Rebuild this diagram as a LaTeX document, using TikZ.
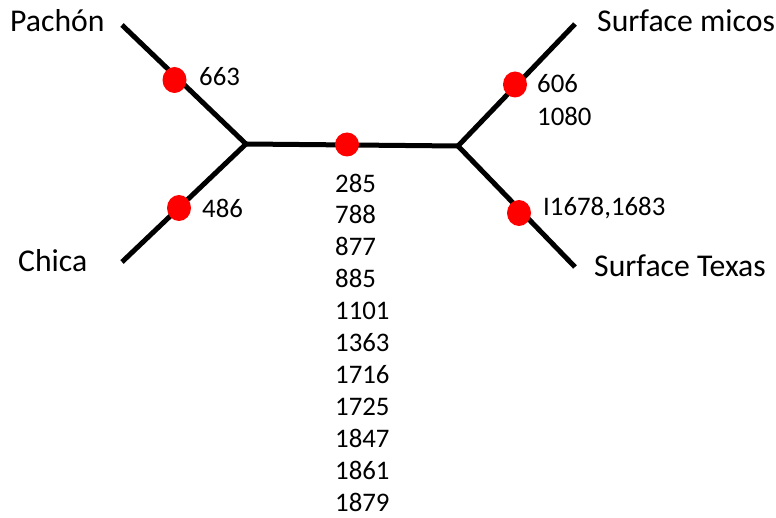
\documentclass[tikz,border=0pt]{standalone}
\usepackage{fontspec}
\setmainfont{Carlito}
\usetikzlibrary{shapes.geometric}
\begin{document}
\begin{tikzpicture}[x=1pt,y=-1pt,
  branch/.style={line width=5pt,black},
  site/.style={ellipse,fill=red,draw=none,inner sep=0pt,minimum width=24pt,minimum height=26pt},
  taxon/.style={anchor=base west,inner sep=0pt,font=\fontsize{31.7}{38}\selectfont},
  posn/.style={anchor=base west,inner sep=0pt,align=left,font=\fontsize{26.8}{32}\selectfont}]
  \useasboundingbox (0,0) rectangle (776,518);
  % tree skeleton
  \coordinate (jl) at (246,144);
  \coordinate (jr) at (458,146);
  \coordinate (tp) at (122,25);
  \coordinate (tc) at (122,262);
  \coordinate (tm) at (575,24);
  \coordinate (tt) at (575,267);
  \draw[branch,line join=miter] (tp) -- (jl) -- (tc);
  \draw[branch] (jl) -- (jr);
  \draw[branch,line join=miter] (tm) -- (jr) -- (tt);
  % mutation sites
  \node[site] (sp) at (174.5,80) {};
  \node[site] (sc) at (179,208) {};
  \node[site,minimum height=24pt] (sm) at (347,144.5) {};
  \node[site] (su) at (515,84.5) {};
  \node[site] (st) at (519,213) {};
  % taxa
  \node[taxon] (lp) at (10,32) {Pachón};
  \node[taxon] (lc) at (18,272) {Chica};
  \node[taxon] (lu) at (597,32) {Surface micos};
  \node[taxon] (lt) at (594,277) {Surface Texas};
  % positions (multi-line nodes are placed by the baseline of their last line)
  \node[posn] (np) at (199,86) {663};
  \node[posn] (nc) at (202,218) {486};
  \node[posn,font=\fontsize{26.8}{33}\selectfont] (nu) at (537,126) {606\\1080};
  \node[posn] (nt) at (543,216) {I1678,1683};
  \node[posn,font=\fontsize{26.8}{31.9}\selectfont] (nm) at (335,511)
    {285\\788\\877\\885\\1101\\1363\\1716\\1725\\1847\\1861\\1879};
\end{tikzpicture}
\end{document}
